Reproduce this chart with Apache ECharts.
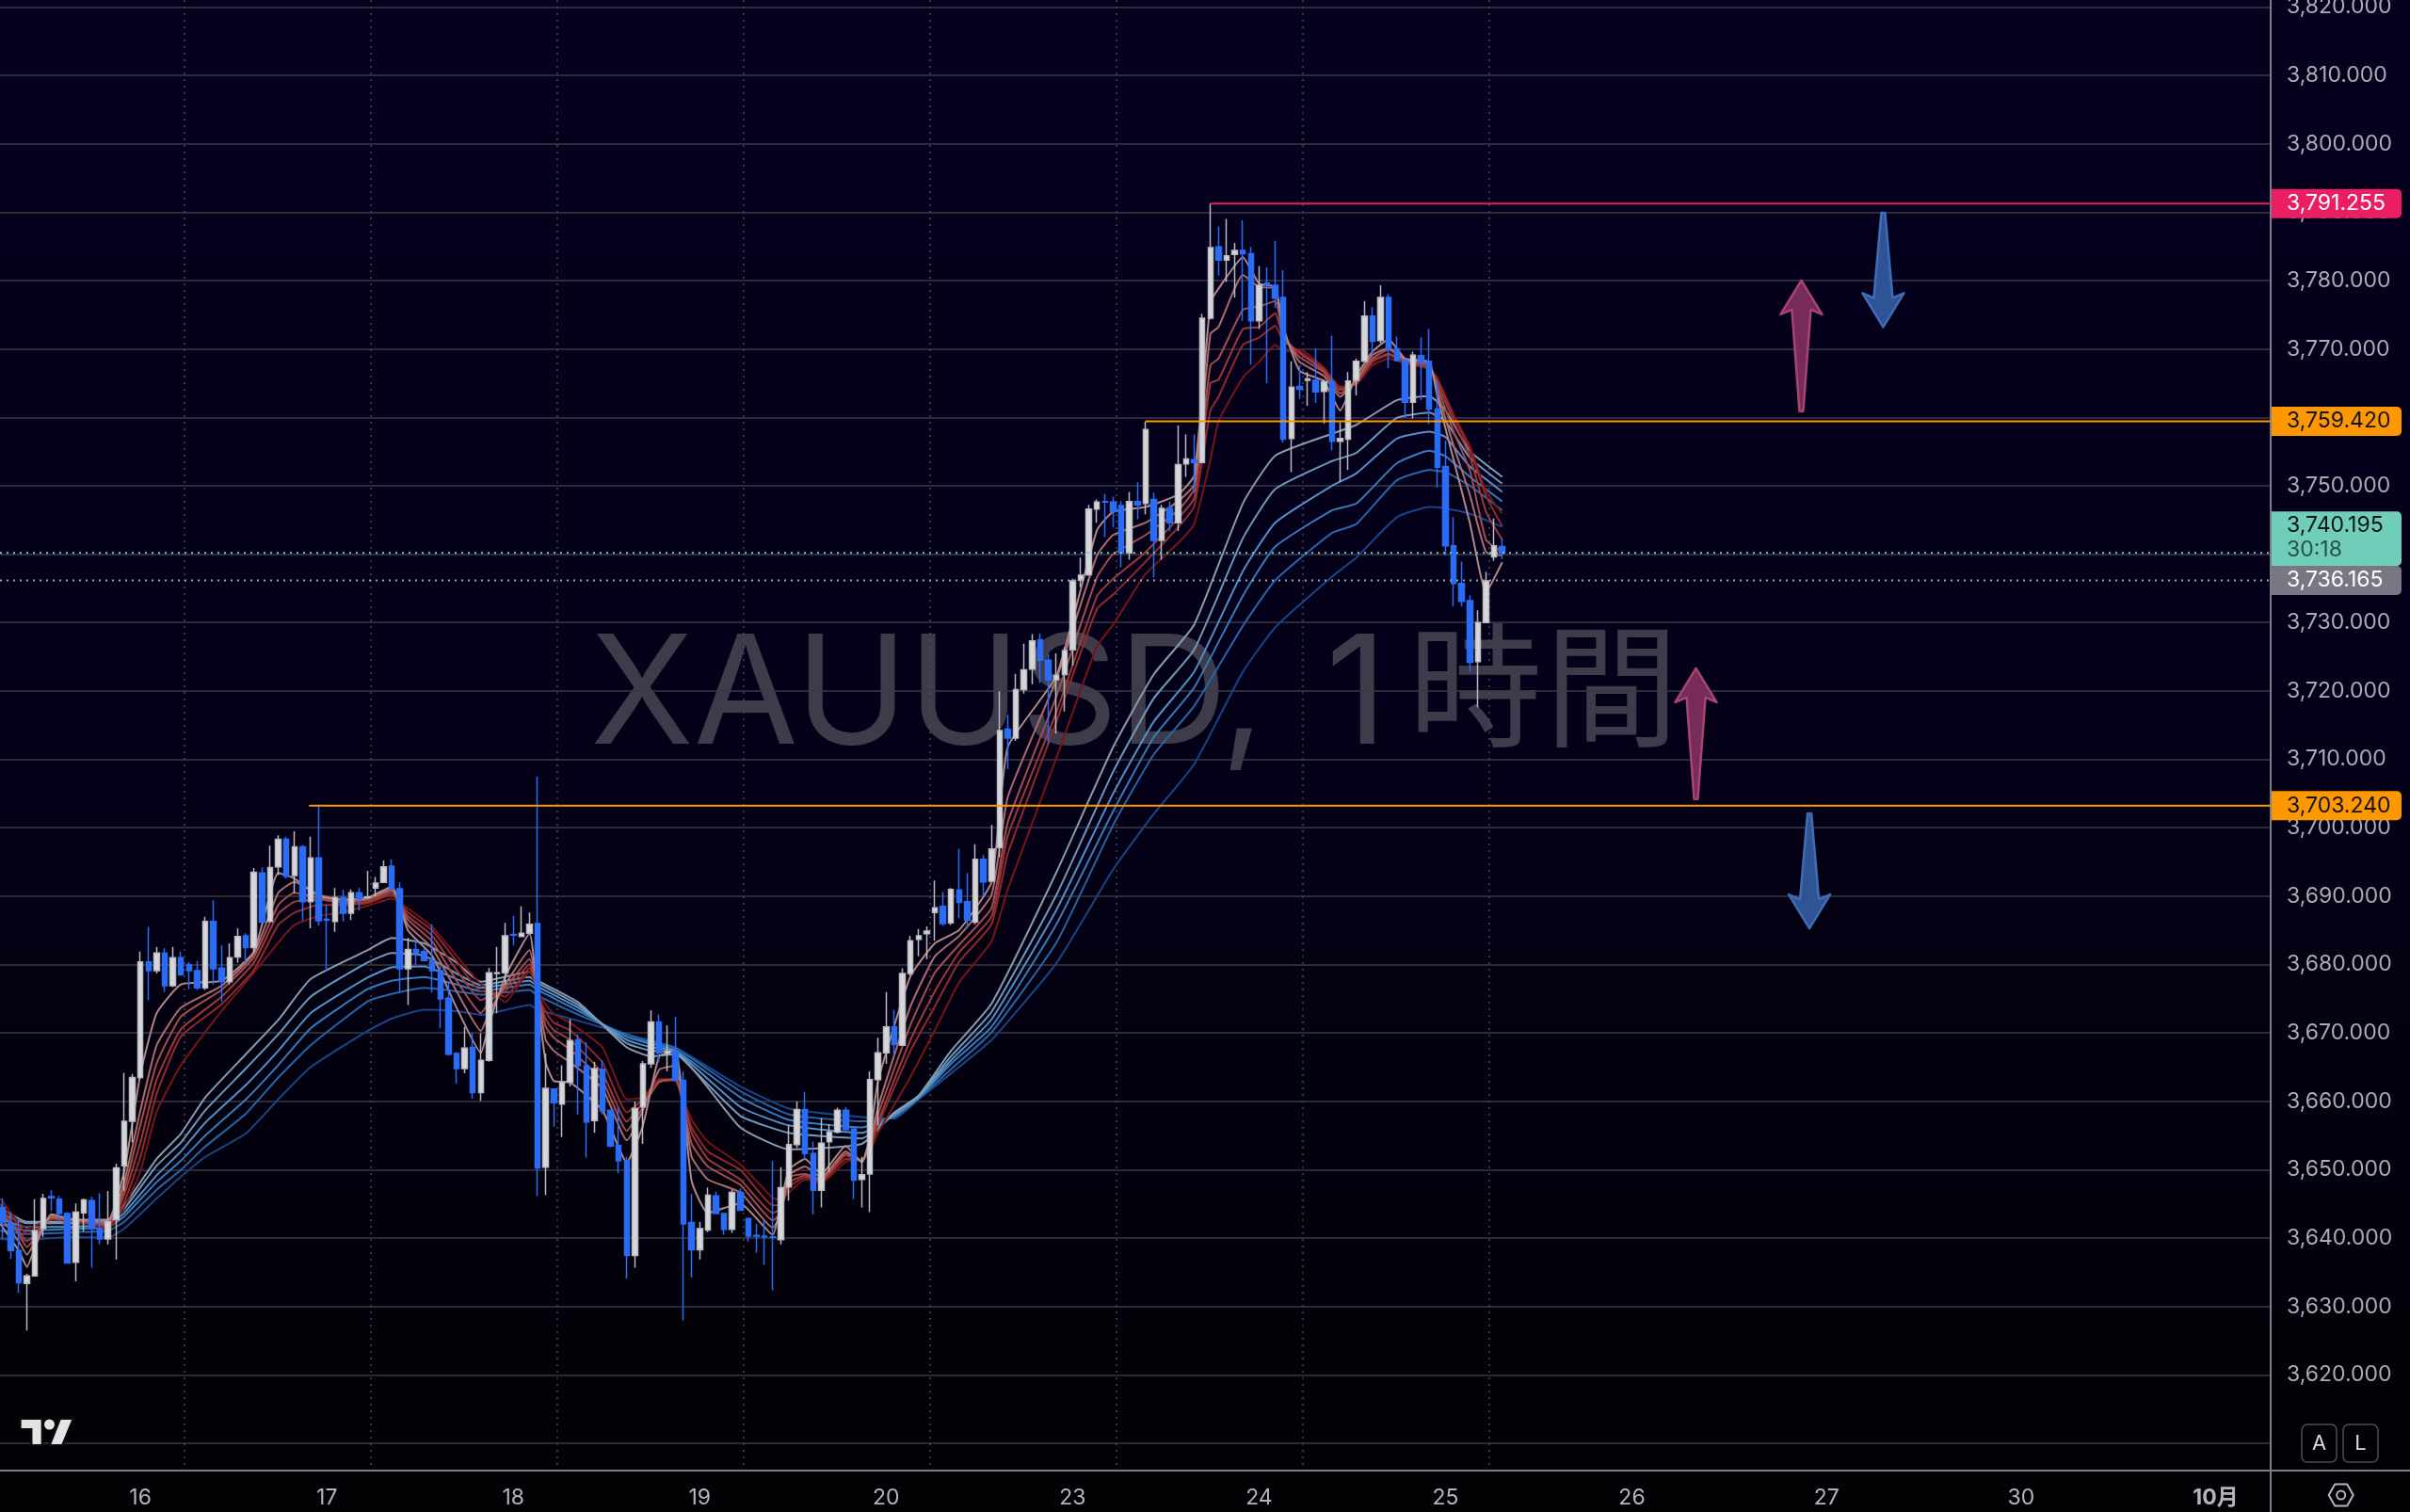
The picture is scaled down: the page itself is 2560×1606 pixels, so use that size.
<!DOCTYPE html>
<html>
<head>
<meta charset="utf-8">
<title>XAUUSD, 1時間</title>
<script src="https://cdn.jsdelivr.net/npm/echarts@6/dist/echarts.min.js"></script>
<style>
  html, body { margin: 0; padding: 0; background: #000; }
  #chart { width: 2560px; height: 1606px; }
</style>
</head>
<body>
<div id="chart"></div>
<script>
  // hourly candles, bar number = position in these arrays
  const opens = [
    3644.5,3642.2,3638.2,3633.4,3634.5,3641.4,3646.1,3645.7,3643.6,3636.5,
    3643.7,3645.5,3641.4,3639.9,3642.7,3650.6,3657.1,3663.5,3680.4,3679.1,
    3681.7,3676.9,3681.0,3680.0,3679.1,3676.6,3686.3,3679.5,3677.5,3681.1,
    3684.2,3682.5,3693.4,3686.3,3694.3,3698.3,3693.0,3697.2,3689.2,3695.6,
    3686.6,3686.3,3689.8,3687.5,3690.5,3689.8,3691.2,3692.0,3694.4,3691.1,
    3679.4,3682.2,3681.9,3680.6,3679.1,3675.1,3667.0,3664.8,3667.9,3661.3,
    3666.0,3678.7,3678.8,3684.4,3684.1,3684.6,3686.0,3650.4,3661.8,3659.6,
    3662.8,3669.0,3665.2,3657.2,3664.7,3658.7,3653.6,3651.3,3637.5,3659.2,
    3665.5,3671.6,3667.0,3667.4,3663.1,3642.3,3638.3,3641.2,3646.2,3643.6,
    3641.3,3646.7,3642.9,3640.4,3640.3,3640.2,3639.8,3647.5,3653.7,3658.8,
    3652.4,3647.0,3654.1,3655.5,3658.7,3656.0,3648.6,3649.4,3663.2,3667.1,
    3670.9,3668.2,3678.7,3683.7,3684.5,3687.6,3688.5,3686.1,3690.9,3689.2,
    3686.2,3695.4,3692.2,3697.1,3714.4,3713.1,3720.2,3723.2,3727.5,3724.5,
    3721.65,3722.4,3726.0,3736.2,3737.0,3746.6,3747.7,3747.6,3747.1,3740.2,
    3747.7,3747.4,3748.0,3742.0,3746.7,3744.6,3753.2,3753.8,3753.4,3774.5,
    3784.9,3783.0,3783.8,3784.4,3783.9,3774.1,3779.6,3779.3,3777.5,3756.9,
    3764.5,3765.4,3765.4,3763.8,3765.2,3756.5,3756.8,3765.4,3768.2,3774.8,
    3771.2,3777.5,3770.0,3768.3,3762.2,3769.0,3768.2,3761.2,3752.8,3741.2,
    3735.7,3733.2,3724.3,3730.0,3739.6,3741.1
  ];
  const closes = [
    3642.3,3638.2,3633.5,3634.5,3641.1,3645.8,3645.9,3643.6,3636.4,3643.8,
    3645.6,3641.4,3639.9,3642.4,3650.3,3657.1,3663.5,3680.4,3679.1,3681.7,
    3676.9,3681.0,3678.5,3679.1,3676.6,3686.3,3679.4,3677.5,3681.0,3684.1,
    3682.5,3693.5,3686.2,3694.2,3698.3,3692.9,3697.2,3689.2,3695.6,3686.4,
    3686.5,3689.8,3687.5,3690.5,3689.6,3689.9,3691.9,3694.3,3691.1,3679.4,
    3682.2,3681.6,3680.6,3679.1,3675.0,3666.9,3664.8,3667.8,3661.3,3666.0,
    3678.8,3678.8,3684.2,3684.3,3684.6,3685.9,3650.3,3661.9,3659.8,3662.8,
    3668.9,3665.2,3657.0,3664.8,3658.6,3653.5,3651.3,3637.5,3659.0,3665.5,
    3671.6,3667.1,3667.4,3663.1,3642.1,3638.3,3641.4,3646.3,3643.6,3641.3,
    3646.7,3644.1,3640.3,3640.3,3640.2,3640.1,3647.4,3653.7,3658.8,3652.4,
    3647.0,3653.9,3655.5,3658.7,3655.9,3648.5,3649.3,3663.2,3667.1,3670.9,
    3668.3,3678.7,3683.5,3684.2,3684.9,3688.3,3686.0,3691.0,3689.1,3686.5,
    3695.4,3692.1,3696.9,3714.2,3713.1,3720.2,3723.1,3727.3,3724.5,3721.6,
    3722.3,3725.9,3736.1,3736.9,3746.6,3747.6,3747.6,3746.2,3740.2,3747.7,
    3747.2,3758.2,3742.0,3746.7,3744.6,3753.1,3753.9,3753.4,3774.5,3784.8,
    3783.0,3783.6,3784.4,3783.9,3774.1,3779.3,3779.35,3777.4,3756.8,3764.4,
    3764.1,3765.6,3763.7,3765.2,3756.5,3756.9,3765.3,3768.2,3774.8,3771.1,
    3777.5,3770.0,3768.3,3762.2,3769.1,3768.1,3761.2,3752.7,3741.2,3735.7,
    3733.1,3724.2,3730.0,3736.1,3741.2,3740.195
  ];
  const lows = [
    3640.0,3637.0,3632.0,3626.5,3634.4,3640.2,3644.0,3642.4,3636.4,3633.7,
    3641.0,3635.7,3639.1,3639.1,3636.9,3646.9,3654.0,3663.2,3674.8,3678.7,
    3676.0,3676.7,3678.4,3676.4,3676.3,3676.3,3677.1,3674.6,3677.1,3680.3,
    3680.3,3681.8,3686.2,3686.2,3693.1,3692.6,3690.4,3686.4,3685.3,3685.7,
    3679.0,3684.8,3686.3,3686.5,3687.9,3689.8,3690.0,3691.9,3691.0,3676.0,
    3674.1,3679.9,3680.5,3675.9,3670.7,3666.7,3662.6,3664.1,3660.4,3660.1,
    3665.8,3672.9,3677.1,3682.8,3684.1,3684.5,3646.2,3646.3,3656.3,3654.8,
    3662.2,3658.1,3651.8,3655.4,3658.1,3653.3,3649.5,3634.1,3635.7,3653.8,
    3664.9,3665.7,3664.4,3663.0,3628.0,3634.3,3636.9,3640.9,3643.5,3640.5,
    3640.8,3644.0,3639.5,3637.9,3636.1,3632.4,3639.1,3645.5,3653.2,3651.5,
    3643.5,3644.5,3649.7,3655.3,3655.7,3645.7,3644.5,3643.8,3656.5,3665.5,
    3666.7,3668.1,3678.4,3681.2,3680.8,3683.5,3685.7,3685.8,3686.8,3685.4,
    3685.9,3690.0,3692.1,3695.7,3708.6,3712.7,3719.6,3721.0,3721.2,3712.2,
    3713.8,3717.0,3723.7,3735.2,3736.8,3744.6,3742.5,3743.9,3738.1,3739.2,
    3745.1,3745.8,3736.6,3739.2,3743.4,3743.4,3751.3,3749.0,3753.3,3774.3,
    3780.7,3779.8,3777.5,3774.1,3767.7,3772.9,3765.0,3776.0,3756.3,3752.0,
    3762.7,3761.7,3762.1,3759.1,3755.2,3750.5,3752.3,3763.2,3768.1,3769.1,
    3770.8,3767.2,3768.2,3759.9,3759.8,3762.5,3759.0,3749.7,3739.8,3732.4,
    3732.4,3722.8,3717.6,3730.0,3739.0,3739.3
  ];
  const highs = [
    3645.8,3643.7,3642.7,3634.8,3645.7,3646.5,3647.0,3646.2,3643.8,3645.1,
    3645.8,3646.1,3646.6,3646.9,3650.9,3664.2,3664.0,3681.9,3685.5,3682.6,
    3682.4,3682.6,3681.9,3680.4,3680.5,3687.0,3689.4,3682.8,3683.1,3685.3,
    3684.6,3694.1,3694.2,3697.4,3698.9,3698.7,3699.5,3697.5,3698.7,3703.4,
    3688.7,3691.2,3690.9,3691.0,3691.2,3693.7,3692.8,3695.2,3695.4,3692.0,
    3683.9,3683.7,3682.5,3685.9,3679.8,3677.4,3667.2,3670.9,3670.0,3670.0,
    3679.5,3682.6,3686.1,3687.1,3688.5,3687.6,3707.5,3667.0,3661.9,3665.3,
    3672.0,3669.8,3668.7,3665.8,3666.0,3658.8,3659.2,3651.9,3660.0,3665.9,
    3673.3,3672.7,3671.1,3672.4,3664.4,3646.5,3642.4,3647.4,3646.8,3643.6,
    3647.1,3647.3,3643.0,3642.1,3642.7,3651.3,3650.4,3656.5,3660.0,3661.4,
    3654.1,3657.5,3656.7,3659.1,3659.2,3656.1,3651.9,3664.4,3669.3,3676.0,
    3673.4,3679.45,3684.2,3685.2,3685.6,3692.3,3690.6,3691.2,3696.9,3693.4,
    3697.6,3696.0,3700.4,3719.95,3716.5,3722.5,3726.9,3728.3,3728.4,3725.4,
    3725.5,3726.4,3736.4,3739.5,3747.2,3748.0,3748.8,3748.4,3747.75,3749.1,
    3750.5,3759.42,3749.0,3747.2,3747.7,3758.8,3757.5,3757.5,3775.1,3791.255,
    3787.9,3789.0,3785.5,3788.8,3784.9,3782.1,3781.9,3785.8,3781.5,3768.2,
    3767.6,3766.6,3770.0,3765.5,3771.9,3759.3,3766.6,3768.6,3777.0,3776.1,
    3779.3,3778.0,3771.8,3768.6,3769.6,3771.7,3772.9,3765.3,3756.6,3745.4,
    3738.9,3734.0,3731.8,3737.4,3745.2,3742.3
  ];

  // short ribbon, read at these bars
  const redBars = [
    -0.3,2,3,4,6,9,13,15,17,19,
    22,27,31,34,36,39,42,45,48,50,
    53,56,59,60,62,65,66,67,68,70,
    74,77,79,81,83,85,87,91,95,96,
    97,99,101,104,106,107,108,112,115,118,
    122,124,130,135,137,141,145,147,149,150,
    153,155,157,158,160,163,165,167,169,171,
    173,176,177,179,181,183,185
  ];
  const red1 = [
    3642.1,3638.2,3635.8,3638.7,3643.5,3642.7,3642.7,3649.8,3664.0,3672.9,
    3677.1,3677.65,3681.9,3693.4,3692.6,3690.0,3689.5,3689.75,3691.4,3685.0,
    3681.3,3673.7,3667.1,3671.3,3678.2,3684.5,3675.0,3665.7,3663.0,3662.8,
    3658.7,3651.1,3656.5,3666.6,3667.4,3648.35,3643.7,3645.1,3640.5,3645.1,
    3650.0,3651.6,3649.4,3653.5,3651.1,3654.9,3663.0,3678.3,3683.1,3685.05,
    3692.1,3711.8,3722.2,3743.5,3746.2,3746.9,3748.7,3751.5,3776.75,3778.8,
    3783.4,3779.55,3779.05,3773.2,3766.8,3765.3,3761.0,3766.05,3769.6,3771.4,
    3768.6,3768.1,3763.0,3753.8,3744.6,3734.45,3738.8
  ];
  const red2 = [
    3643.2,3639.5,3637.6,3639.5,3643.2,3642.7,3642.3,3648.2,3658.7,3668.2,
    3673.7,3676.9,3681.6,3690.5,3692.1,3690.2,3689.5,3689.6,3691.1,3685.8,
    3682.4,3676.1,3670.3,3672.9,3677.1,3682.1,3675.5,3669.0,3667.4,3665.7,
    3661.9,3654.3,3658.7,3664.65,3665.2,3651.9,3648.6,3646.7,3641.55,3643.45,
    3649.2,3650.5,3648.9,3652.7,3651.2,3654.05,3659.2,3673.9,3681.2,3684.2,
    3690.2,3704.5,3721.7,3739.8,3742.8,3744.6,3747.7,3750.2,3772.2,3773.2,
    3780.8,3779.05,3778.8,3772.4,3768.1,3766.05,3763.0,3765.5,3769.1,3770.1,
    3768.5,3767.8,3763.75,3755.85,3748.7,3740.3,3739.8
  ];
  const red3 = [
    3644.0,3640.6,3638.7,3640.0,3643.0,3642.6,3642.0,3647.1,3656.6,3665.55,
    3672.4,3676.3,3681.1,3688.7,3690.5,3689.75,3689.2,3689.5,3690.8,3686.6,
    3683.4,3677.65,3672.9,3674.5,3676.6,3680.8,3675.8,3670.9,3669.3,3667.6,
    3663.0,3655.7,3659.2,3662.9,3663.3,3653.8,3650.5,3647.8,3642.6,3643.7,
    3648.9,3649.4,3648.6,3652.4,3651.3,3653.5,3658.1,3671.2,3678.8,3682.9,
    3688.3,3700.8,3719.2,3736.6,3740.0,3742.8,3746.4,3749.5,3767.6,3768.6,
    3775.7,3776.2,3777.0,3771.9,3768.8,3766.6,3763.5,3765.3,3768.6,3769.9,
    3768.3,3767.6,3764.5,3757.9,3752.3,3742.1,3740.3
  ];
  const red4 = [
    3644.5,3641.1,3639.5,3640.6,3642.9,3642.6,3641.9,3646.35,3654.0,3663.2,
    3670.55,3675.3,3680.3,3687.4,3689.2,3689.5,3689.0,3689.2,3690.5,3687.1,
    3684.2,3679.2,3674.8,3675.3,3676.1,3680.0,3675.8,3672.0,3670.4,3669.0,
    3664.1,3657.05,3659.8,3662.8,3663.2,3655.4,3651.6,3648.6,3643.7,3644.3,
    3648.1,3649.2,3648.45,3652.1,3651.3,3653.2,3657.05,3669.0,3676.1,3681.8,
    3687.0,3698.8,3716.9,3733.85,3736.4,3740.3,3745.2,3748.2,3765.0,3765.5,
    3772.9,3773.2,3775.2,3771.65,3769.4,3766.8,3764.0,3765.0,3768.3,3769.3,
    3768.2,3767.3,3765.0,3759.4,3754.3,3746.2,3742.1
  ];
  const red5 = [
    3645.0,3641.9,3640.6,3641.1,3642.8,3642.5,3641.6,3645.3,3651.9,3661.1,
    3669.5,3674.2,3679.2,3685.8,3687.6,3688.7,3688.7,3689.0,3690.2,3687.65,
    3685.0,3680.5,3676.1,3676.1,3675.3,3679.5,3675.8,3673.1,3671.5,3670.4,
    3665.7,3658.4,3660.3,3663.1,3663.1,3656.2,3652.7,3650.0,3644.8,3644.8,
    3647.5,3648.9,3648.3,3651.6,3651.5,3653.0,3656.5,3667.4,3673.9,3680.4,
    3685.9,3696.2,3715.5,3732.0,3734.1,3738.9,3743.9,3747.0,3761.0,3763.0,
    3770.6,3771.65,3773.4,3771.1,3769.6,3767.1,3764.3,3764.9,3768.1,3769.1,
    3768.1,3767.1,3765.5,3760.2,3755.3,3748.5,3744.1
  ];
  const red6 = [
    3645.8,3642.3,3641.4,3641.8,3642.7,3642.4,3641.4,3644.5,3649.8,3658.5,
    3665.3,3673.2,3678.8,3683.2,3685.8,3687.1,3687.65,3688.6,3689.65,3688.2,
    3685.5,3681.3,3677.1,3676.6,3674.5,3679.0,3676.1,3674.2,3672.8,3671.5,
    3667.9,3660.3,3660.6,3663.3,3663.0,3657.3,3654.1,3650.8,3645.9,3645.6,
    3646.7,3648.6,3648.1,3651.2,3651.5,3652.7,3655.4,3663.6,3670.4,3677.4,
    3683.4,3691.0,3710.2,3726.5,3729.7,3737.1,3741.6,3744.4,3753.8,3759.4,
    3765.8,3768.1,3770.6,3769.6,3769.9,3767.3,3764.5,3764.8,3767.6,3768.6,
    3767.9,3767.1,3765.8,3760.4,3755.85,3749.2,3745.9
  ];

  // long ribbon
  const blueBars = [
    -0.3,3,9,13,15,19,22,25,30,34,
    38,45,48,52,56,59,65,66,71,77,
    80,83,91,97,106,110,113,117,122,130,
    137,142,147,153,157,164,167,172,176,178,
    181,185
  ];
  const blue1 = [
    3644.5,3642.4,3642.4,3642.7,3644.8,3651.6,3655.3,3660.6,3666.9,3671.9,
    3677.9,3682.1,3683.9,3683.1,3680.3,3677.5,3678.96,3677.7,3674.5,3667.9,
    3666.6,3666.9,3656.2,3653.0,3653.8,3658.4,3660.85,3667.4,3674.3,3693.5,
    3711.8,3722.4,3729.7,3747.4,3754.4,3757.6,3758.9,3762.5,3763.1,3761.0,
    3755.1,3751.3
  ];
  const blue2 = [
    3643.7,3642.2,3642.2,3642.3,3644.3,3650.6,3654.0,3658.7,3664.8,3669.8,
    3675.3,3680.3,3681.7,3681.3,3678.7,3677.0,3678.2,3677.3,3674.1,3668.5,
    3667.4,3667.1,3657.9,3655.4,3654.6,3658.2,3660.75,3666.6,3673.1,3690.2,
    3708.2,3718.9,3726.05,3742.3,3749.5,3753.6,3754.8,3759.9,3760.7,3759.4,
    3754.1,3750.3
  ];
  const blue3 = [
    3642.9,3641.6,3641.7,3642.0,3643.7,3649.2,3652.7,3656.9,3662.4,3667.4,
    3672.9,3678.1,3679.6,3679.75,3677.9,3676.6,3677.65,3676.8,3673.7,3669.0,
    3667.9,3667.4,3659.2,3656.5,3655.4,3658.0,3660.6,3666.0,3672.0,3688.0,
    3705.0,3715.5,3722.8,3737.5,3744.6,3750.0,3751.8,3756.9,3757.9,3757.1,
    3752.8,3749.1
  ];
  const blue4 = [
    3642.1,3641.1,3641.4,3641.6,3643.2,3648.2,3651.35,3655.0,3660.3,3665.3,
    3670.7,3676.4,3677.65,3678.2,3677.1,3676.1,3677.1,3676.3,3673.25,3669.45,
    3668.4,3667.5,3660.6,3657.3,3656.2,3657.9,3660.5,3665.5,3670.9,3685.9,
    3702.4,3713.2,3720.5,3733.9,3741.1,3746.4,3747.4,3753.3,3755.1,3754.3,
    3751.3,3747.7
  ];
  const blue5 = [
    3641.1,3640.6,3640.9,3641.1,3642.4,3647.1,3650.0,3653.4,3658.2,3663.5,
    3668.2,3674.6,3675.7,3676.6,3676.1,3675.6,3676.3,3675.5,3672.7,3669.8,
    3668.6,3667.8,3661.5,3658.1,3657.1,3657.7,3660.4,3664.7,3670.1,3683.2,
    3700.4,3710.7,3717.8,3729.5,3736.2,3743.1,3744.4,3750.8,3752.3,3752.0,
    3750.0,3746.4
  ];
  const blue6 = [
    3639.9,3639.8,3640.2,3640.1,3641.4,3645.8,3649.0,3651.9,3655.3,3660.3,
    3665.0,3670.3,3672.1,3673.4,3673.2,3672.65,3674.1,3673.4,3671.8,3669.8,
    3668.9,3667.9,3662.2,3658.95,3657.7,3657.5,3660.3,3664.1,3669.0,3680.2,
    3693.9,3702.0,3709.3,3722.8,3729.3,3736.7,3739.5,3745.4,3746.9,3746.7,
    3745.9,3744.0
  ];

  // axis ticks
  const priceTicks = [3610,3620,3630,3640,3650,3660,3670,3680,3690,3700,3710,3720,3730,3740,3750,3760,3770,3780,3790,3800,3810,3820];
  const priceLabels = [3620,3630,3640,3650,3660,3670,3680,3690,3700,3710,3720,3730,3740,3750,3760,3770,3780,3790,3800,3810,3820];
  const dayTicks = [17,40,63,86,109,132,155,178,201,225,249,273];
  const dayLabels = ['16','17','18','19','20','23','24','25','26','27','30','10月'];
  const dayLines = [22.4,45.4,68.4,91.4,114.4,137.4,160.4,183.4];

  // drawn levels
  const levelPrices = [3791.255,3759.42,3703.24];
  const levelStarts = [149,141,37.8];
  const levelColors = ['#e91e63','#ff9800','#ff9800'];
  const lastPrice = 3740.195;
  const prevPrice = 3736.165;

  // drawn arrows
  const arrowBars = [221.9,232,208.9,222.9];
  const arrowTips = [3780,3773.2,3723.3,3685.3];
  const arrowTails = [3760.9,3789.9,3704.2,3702.1];
  const arrowFills = ['#772b58','#2f5496','#772b58','#2f5496'];
  const arrowLines = ['#a8456f','#3f6db5','#a8456f','#3f6db5'];

  const xMin = -0.325;
  const xMax = 279.8;
  const yMin = 3606.04;
  const yMax = 3821;

  const redColors = ['#b08888','#ad6c6c','#a44e4e','#9c3a3a','#922a2a','#761616'];
  const blueColors = ['#889cae','#6f99bc','#5290c7','#377bbb','#2865a8','#1a4488'];
  const reds = [red1,red2,red3,red4,red5,red6];
  const blues = [blue1,blue2,blue3,blue4,blue5,blue6];

  const ribbon = (bars, values, color) => ({
    type: 'line',
    data: bars.map((b, i) => [b, values[i]]),
    showSymbol: false,
    silent: true,
    smooth: 0.15,
    z: 2,
    lineStyle: { color: color, width: 2 }
  });

  const level = (start, price, color, type, width) => ({
    type: 'line',
    data: [[start, price], [xMax, price]],
    showSymbol: false,
    silent: true,
    z: 5,
    lineStyle: { color: color, width: width, type: type }
  });

  var series = [];
  blues.slice().reverse().forEach((v, i) => series.push(ribbon(blueBars, v, blueColors[5 - i])));
  reds.slice().reverse().forEach((v, i) => series.push(ribbon(redBars, v, redColors[5 - i])));
  series.push({
    type: 'candlestick',
    data: opens.map((o, i) => [i, o, closes[i], lows[i], highs[i]]),
    barWidth: 6,
    silent: true,
    z: 3,
    itemStyle: {
      color: '#d6d7db',
      color0: '#2a6cf6',
      borderColor: '#b9bac0',
      borderColor0: '#2a6cf6',
      borderWidth: 1.5
    }
  });
  levelPrices.forEach((p, i) => series.push(level(levelStarts[i], p, levelColors[i], 'solid', 2)));
  series.push(level(xMin, lastPrice, '#6fd0bb', [2, 5], 2));
  series.push(level(xMin, prevPrice, '#a3a3ad', [2, 5], 2));
  series.push({
    type: 'custom',
    silent: true,
    z: 6,
    data: arrowBars.map((b, i) => [b, arrowTips[i], arrowTails[i], i]),
    encode: { x: 0, y: 1 },
    renderItem: (params, api) => {
      var tip = api.coord([api.value(0), api.value(1)]);
      var tail = api.coord([api.value(0), api.value(2)]);
      var k = api.value(3);
      var dir = tail[1] > tip[1] ? 1 : -1;
      var x = tip[0];
      var wing = tip[1] + dir * 36;
      var neck = tip[1] + dir * 31;
      return {
        type: 'polygon',
        shape: {
          points: [
            tip, [x + 22, wing], [x + 10, neck], [x + 2, tail[1]],
            [x - 2, tail[1]], [x - 10, neck], [x - 22, wing]
          ]
        },
        style: { fill: arrowFills[k], stroke: arrowLines[k], lineWidth: 2.5, lineJoin: 'round' }
      };
    }
  });

  var option = {
    animation: false,
    backgroundColor: {
      type: 'linear', x: 0, y: 0, x2: 0, y2: 1,
      colorStops: [
        { offset: 0, color: '#06001f' },
        { offset: 0.5, color: '#040018' },
        { offset: 1, color: '#020204' }
      ]
    },
    grid: { left: 0, right: 148, top: 0, bottom: 44, outerBoundsMode: 'none' },
    xAxis: {
      type: 'value',
      min: xMin,
      max: xMax,
      axisLine: { show: true, onZero: false, lineStyle: { color: '#7c7e8a', width: 2 } },
      axisTick: { show: false, customValues: dayLines },
      splitLine: { show: true, lineStyle: { color: '#4a4a58', width: 1.5, type: [2, 5] } },
      axisLabel: {
        customValues: dayTicks,
        margin: 18,
        fontFamily: 'Inter',
        fontSize: 23,
        color: '#b2b5be',
        formatter: (v) => {
          var s = dayLabels[dayTicks.indexOf(v)];
          return s === '10月' ? '{b|' + s + '}' : s;
        },
        rich: { b: { fontFamily: 'Inter, "Noto Sans CJK JP"', fontSize: 23, fontWeight: 'bold', color: '#b2b5be' } }
      }
    },
    yAxis: {
      type: 'value',
      position: 'right',
      min: yMin,
      max: yMax,
      scale: true,
      axisLine: { show: true, onZero: false, lineStyle: { color: '#7c7e8a', width: 2 } },
      axisTick: { show: false, customValues: priceTicks },
      splitLine: { show: true, lineStyle: { color: '#3a3a46', width: 1.5 } },
      axisLabel: {
        customValues: priceLabels,
        margin: 17,
        fontFamily: 'Inter',
        fontSize: 23,
        color: '#a9abb5',
        formatter: (v) => v.toLocaleString('en-US', { minimumFractionDigits: 3 })
      }
    },
    series: series
  };

  var chart = echarts.init(document.getElementById('chart'));
  chart.setOption(option);

  // price tags sit on the axis, so take their height from the scale
  const py = (p) => chart.convertToPixel({ yAxisIndex: 0 }, p);
  const tagFont = '23px Inter';
  const priceTag = (top, h, fill) => ({
    type: 'rect', z: 20,
    shape: { x: 2413, y: top, width: 138, height: h, r: [0, 5, 5, 0] },
    style: { fill: fill }
  });
  const tagText = (y, text, color) => ({
    type: 'text', z: 21,
    style: { x: 2429, y: y, text: text, font: tagFont, fill: color, textVerticalAlign: 'middle' }
  });
  const fmt = (p) => p.toLocaleString('en-US', { minimumFractionDigits: 3 });

  // watermark pieces, the kanji are set a little smaller than the latin
  const mark = (x, y, text, size, align) => ({
    type: 'text', z: -1,
    style: {
      x: x, y: y, text: text, textAlign: align,
      font: size + 'px Inter, "Noto Sans CJK JP"', fill: '#3e3c4b', textVerticalAlign: 'middle'
    }
  });
  var items = [
    mark(627, 742, 'XAUUSD,', 161, 'left'),
    mark(1441, 742, '1', 161, 'center'),
    mark(1567, 739, '時', 142, 'center'),
    mark(1712, 739, '間', 142, 'center')
  ];
  levelPrices.forEach((p, i) => {
    items.push(priceTag(py(p) - 15.5, 31, levelColors[i]));
    items.push(tagText(py(p), fmt(p), i === 0 ? '#ffffff' : '#131313'));
  });
  items.push(priceTag(py(lastPrice) - 44, 58, '#6fcdb9'));
  items.push(tagText(py(lastPrice) - 29, fmt(lastPrice), '#0c1513'));
  items.push(tagText(py(lastPrice) - 3, '30:18', '#25534a'));
  items.push(priceTag(py(prevPrice) - 15.5, 31, '#777883'));
  items.push(tagText(py(prevPrice), fmt(prevPrice), '#ffffff'));

  // corner of the axes and the small controls
  items.push({ type: 'line', z: 20, shape: { x1: 2412, y1: 1562, x2: 2412, y2: 1606 }, style: { stroke: '#7c7e8a', lineWidth: 2 } });
  items.push({ type: 'line', z: 20, shape: { x1: 2412, y1: 1562, x2: 2560, y2: 1562 }, style: { stroke: '#7c7e8a', lineWidth: 2 } });
  ['A', 'L'].forEach((t, i) => {
    var x = 2445 + i * 44;
    items.push({ type: 'rect', z: 20, shape: { x: x, y: 1513, width: 37, height: 40, r: 6 }, style: { fill: 'transparent', stroke: '#4e4e55', lineWidth: 1.5 } });
    items.push({ type: 'text', z: 21, style: { x: x + 18.5, y: 1533, text: t, font: '22px Inter', fill: '#d9d9de', textAlign: 'center', textVerticalAlign: 'middle' } });
  });
  items.push({
    type: 'polygon', z: 20,
    shape: { points: [[2473.7, 1588], [2480.2, 1576.5], [2493.2, 1576.5], [2499.7, 1588], [2493.2, 1599.5], [2480.2, 1599.5]] },
    style: { fill: 'transparent', stroke: '#b2b5be', lineWidth: 2, lineJoin: 'round' }
  });
  items.push({ type: 'circle', z: 20, shape: { cx: 2486.7, cy: 1588, r: 4.5 }, style: { fill: 'transparent', stroke: '#b2b5be', lineWidth: 2 } });

  // chart logo, bottom left
  const logoStyle = { fill: '#e4e4e4', stroke: '#0b0b0e', lineWidth: 2.5 };
  items.push({ type: 'polygon', z: 20, shape: { points: [[21.4, 1506.7], [44.9, 1506.7], [44.9, 1535.3], [33.2, 1535.3], [33.2, 1518.3], [21.4, 1518.3]] }, style: logoStyle });
  items.push({ type: 'polygon', z: 20, shape: { points: [[63.8, 1506.7], [78, 1506.7], [66.3, 1535.3], [52.5, 1535.3]] }, style: logoStyle });
  items.push({ type: 'circle', z: 21, shape: { cx: 52.5, cy: 1513, r: 5.5 }, style: { fill: '#e4e4e4' } });

  chart.setOption({ graphic: { elements: items } });
</script>
</body>
</html>
